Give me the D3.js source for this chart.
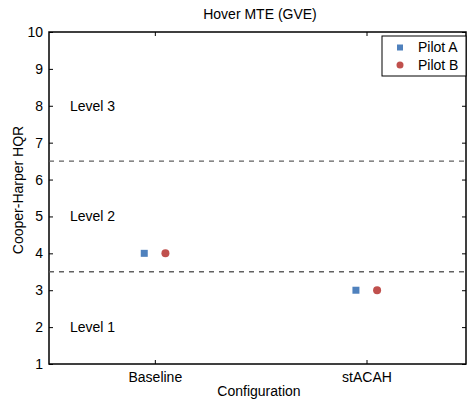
<!DOCTYPE html>
<html>
<head>
<meta charset="utf-8">
<script src="https://cdn.jsdelivr.net/npm/d3@7"></script>
<style>
  body { margin: 0; background: #fff; }
  text { font-family: "Liberation Sans", Arial, sans-serif; fill: #000; }
</style>
</head>
<body>
<div id="chart"></div>
<script>
// data
const categories = ["Baseline", "stACAH"];
const pilotA = [4, 3];
const pilotB = [4, 3];
const yTicks = [1, 2, 3, 4, 5, 6, 7, 8, 9, 10];
const levelBounds = [3.5, 6.5];
const levels = [["Level 1", 2], ["Level 2", 5], ["Level 3", 8]];

const width = 467, height = 402;
const margin = { top: 32, right: 1, bottom: 38, left: 49 };
const innerW = width - margin.left - margin.right;
const innerH = height - margin.top - margin.bottom;
const fs = '14px';

const svg = d3.select('#chart').append('svg')
    .attr('width', width)
    .attr('height', height);

const chart = svg.append('g')
    .attr('transform', `translate(${margin.left},${margin.top})`);

// category index 1..n, small offset per pilot
const x = d3.scaleLinear([0.5, 2.47], [0, innerW]);
const y = d3.scaleLinear([1, 10], [innerH, 0]);

// axes, ticks inward like the original
const xAxis = d3.axisBottom(x).tickValues([1, 2])
    .tickFormat(d => categories[d - 1]).tickSizeInner(-4).tickSizeOuter(0).tickPadding(8);
const yAxis = d3.axisLeft(y).tickValues(yTicks).tickSizeInner(-4).tickSizeOuter(0).tickPadding(6);

chart.append('g').attr('transform', `translate(0,${innerH})`).call(xAxis);
chart.append('g').call(yAxis);
chart.append('g').call(d3.axisTop(x).tickValues([1, 2]).tickFormat('').tickSizeInner(-4).tickSizeOuter(0));
chart.append('g').attr('transform', `translate(${innerW},0)`)
    .call(d3.axisRight(y).tickValues(yTicks).tickFormat('').tickSizeInner(-4).tickSizeOuter(0));

chart.selectAll('.domain').remove();
chart.selectAll('.tick line').attr('stroke', '#000').attr('stroke-width', 1);
chart.selectAll('.tick text').style('font-size', fs);

// frame
chart.append('rect')
    .attr('width', innerW).attr('height', innerH)
    .attr('fill', 'none').attr('stroke', '#000').attr('stroke-width', 1.5);

// level boundaries
chart.selectAll('line.bound')
    .data(levelBounds)
    .join('line')
    .classed('bound', true)
    .attr('x1', 0).attr('x2', innerW)
    .attr('y1', d => y(d)).attr('y2', d => y(d))
    .attr('stroke', '#606060').attr('stroke-width', 1.4)
    .attr('stroke-dasharray', '5,5');

chart.selectAll('text.level')
    .data(levels)
    .join('text')
    .classed('level', true)
    .attr('x', 21)
    .attr('y', d => y(d[1]))
    .attr('dy', '0.35em')
    .style('font-size', fs)
    .text(d => d[0]);

// markers
const off = 0.05;
chart.selectAll('rect.pa')
    .data(pilotA)
    .join('rect')
    .classed('pa', true)
    .attr('x', (d, i) => x(i + 1 - off) - 3.5)
    .attr('y', d => y(d) - 3.5)
    .attr('width', 7).attr('height', 7)
    .attr('fill', '#4f81bd');

chart.selectAll('circle.pb')
    .data(pilotB)
    .join('circle')
    .classed('pb', true)
    .attr('cx', (d, i) => x(i + 1 + off))
    .attr('cy', d => y(d))
    .attr('r', 4)
    .attr('fill', '#c0504d');

// legend
const lg = svg.append('g').attr('transform', 'translate(382,36)');
lg.append('rect').attr('width', 84).attr('height', 40)
    .attr('fill', '#fff').attr('stroke', '#000').attr('stroke-width', 1);
lg.append('rect').attr('x', 15).attr('y', 8.5).attr('width', 6).attr('height', 6).attr('fill', '#4f81bd');
lg.append('circle').attr('cx', 18).attr('cy', 29).attr('r', 3.5).attr('fill', '#c0504d');
lg.append('text').attr('x', 36).attr('y', 11.5).attr('dy', '0.35em').style('font-size', fs).text('Pilot A');
lg.append('text').attr('x', 36).attr('y', 29).attr('dy', '0.35em').style('font-size', fs).text('Pilot B');

// titles
svg.append('text').attr('x', 260).attr('y', 19).attr('text-anchor', 'middle')
    .style('font-size', fs).text('Hover MTE (GVE)');
svg.append('text').attr('x', 259).attr('y', 396).attr('text-anchor', 'middle')
    .style('font-size', fs).text('Configuration');
svg.append('text').attr('transform', 'translate(23,190) rotate(-90)').attr('text-anchor', 'middle')
    .style('font-size', fs).text('Cooper-Harper HQR');
</script>
</body>
</html>
